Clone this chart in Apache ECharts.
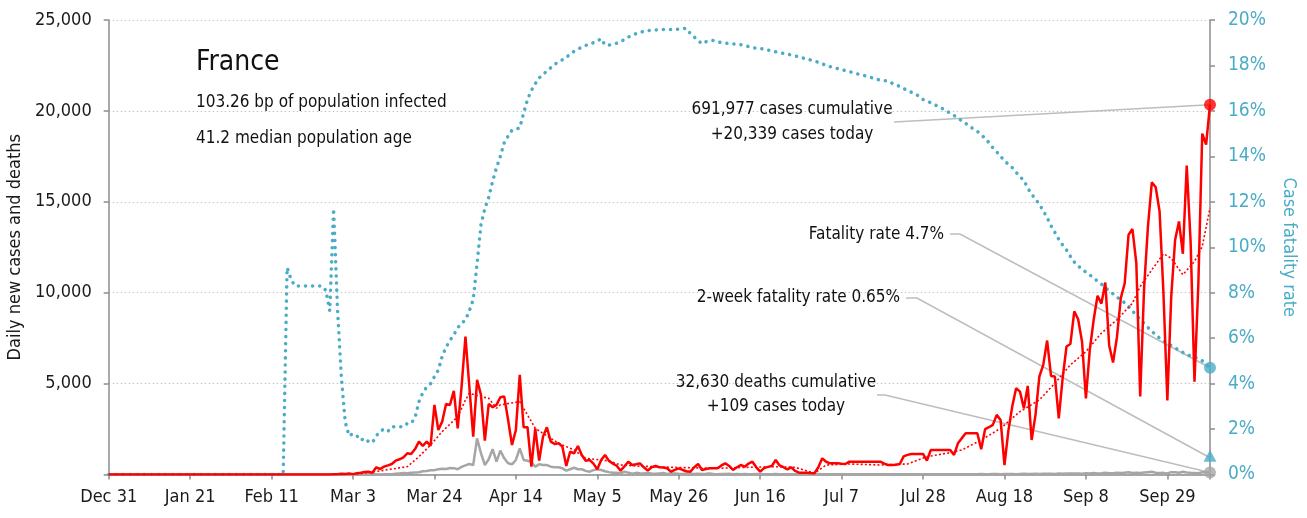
<!DOCTYPE html>
<html>
<head>
<meta charset="utf-8">
<title>France</title>
<script src="https://cdn.jsdelivr.net/npm/echarts@6/dist/echarts.min.js"></script>
<style>
  html, body { margin: 0; padding: 0; background: #fff; }
  #chart { width: 1307px; height: 518px; }
</style>
</head>
<body>
<div id="chart"></div>
<script>
// x axis: day index, 0 = Dec 31, 284 = last day
const tickLabels = ['Dec 31', 'Jan 21', 'Feb 11', 'Mar 3', 'Mar 24', 'Apr 14', 'May 5',
  'May 26', 'Jun 16', 'Jul 7', 'Jul 28', 'Aug 18', 'Sep 8', 'Sep 29']

// daily new cases
const cases = [
  0, 0, 0, 0, 0, 0, 0, 0, 0, 0,
  0, 0, 0, 0, 0, 0, 0, 0, 0, 0,
  0, 0, 0, 0, 0, 3, 0, 0, 0, 1,
  1, 0, 0, 0, 0, 0, 0, 0, 0, 5,
  0, 0, 0, 0, 0, 1, 0, 0, 0, 0,
  0, 0, 0, 0, 0, 0, 0, 2, 20, 19,
  43, 30, 61, 21, 73, 100, 138, 154, 100, 396,
  303, 430, 500, 578, 760, 837, 947, 1167, 1129, 1400,
  1806, 1570, 1806, 1570, 3827, 2450, 2908, 3882, 3827, 4598,
  2542, 4835, 7590, 4835, 2083, 5204, 4378, 1861, 3882, 3699,
  3827, 4250, 4290, 3000, 1625, 2450, 5480, 2600, 2600, 430,
  2540, 760, 2083, 2600, 1806, 1680, 1720, 1530, 470, 1250,
  1160, 1570, 1074, 760, 800, 600, 290, 800, 1074, 750,
  600, 480, 210, 450, 705, 523, 560, 614, 396, 210,
  400, 468, 396, 380, 340, 155, 250, 340, 250, 180,
  155, 400, 578, 250, 300, 340, 340, 340, 500, 614,
  468, 250, 400, 523, 430, 600, 705, 396, 155, 350,
  420, 468, 797, 500, 400, 286, 396, 200, 100, 100,
  100, 80, 70, 396, 890, 700, 614, 614, 614, 590,
  578, 705, 705, 705, 705, 705, 705, 705, 705, 705,
  600, 523, 523, 540, 578, 1000, 1080, 1130, 1130, 1130,
  1130, 760, 1350, 1350, 1350, 1350, 1350, 1350, 1074, 1716,
  2000, 2267, 2267, 2267, 2267, 1390, 2490, 2600, 2730, 3280,
  3000, 520, 2400, 3735, 4745, 4560, 3640, 4870, 1900, 3280,
  5390, 6030, 7370, 5420, 5390, 3090, 5300, 7040, 7180, 8970,
  8540, 7300, 4190, 6860, 8510, 9830, 9400, 10560, 7100, 6160,
  7550, 9700, 10520, 13190, 13500, 11630, 4290, 10240, 13650, 16070,
  15800, 14470, 9960, 4070, 9780, 12900, 13920, 12140, 16990, 12800,
  5110, 10490, 18750, 18150, 20339
]

// daily new deaths
const deaths = [
  0, 0, 0, 0, 0, 0, 0, 0, 0, 0,
  0, 0, 0, 0, 0, 0, 0, 0, 0, 0,
  0, 0, 0, 0, 0, 0, 0, 0, 0, 0,
  0, 0, 0, 0, 0, 0, 0, 0, 0, 0,
  0, 0, 0, 0, 0, 0, 1, 0, 0, 0,
  0, 0, 0, 0, 0, 0, 0, 0, 0, 0,
  0, 0, 1, 1, 0, 2, 3, 2, 8, 11,
  3, 15, 20, 12, 40, 60, 80, 70, 100, 110,
  120, 180, 190, 230, 240, 290, 320, 300, 360, 350,
  290, 420, 500, 580, 520, 1990, 1170, 523, 840, 1390,
  705, 1310, 890, 615, 560, 800, 1440, 800, 760, 700,
  430, 560, 520, 520, 430, 400, 396, 340, 210, 290,
  370, 290, 290, 200, 155, 240, 290, 250, 180, 130,
  100, 90, 70, 150, 100, 40, 90, 70, 60, 80,
  50, 40, 60, 80, 30, 50, 60, 40, 30, 50,
  45, 30, 40, 25, 35, 50, 30, 20, 25, 30,
  40, 20, 25, 15, 30, 20, 10, 25, 30, 15,
  20, 15, 25, 10, 15, 20, 10, 15, 20, 10,
  15, 10, 20, 25, 10, 15, 20, 10, 15, 20,
  10, 15, 12, 10, 15, 20, 10, 12, 15, 10,
  15, 10, 12, 15, 10, 12, 15, 10, 12, 15,
  10, 15, 12, 15, 10, 15, 12, 20, 15, 10,
  15, 20, 12, 15, 20, 25, 15, 20, 25, 30,
  20, 25, 30, 25, 20, 30, 35, 25, 30, 40,
  30, 40, 35, 45, 30, 50, 40, 60, 50, 55,
  60, 45, 70, 55, 80, 60, 70, 90, 65, 75,
  90, 80, 100, 120, 85, 95, 80, 110, 130, 150,
  100, 80, 90, 60, 130, 120, 100, 150, 110, 90,
  80, 70, 120, 130, 109
]

// case fatality rate, %
const fatalityRate = [
  0, 0, 0, 0, 0, 0, 0, 0, 0, 0,
  0, 0, 0, 0, 0, 0, 0, 0, 0, 0,
  0, 0, 0, 0, 0, 0, 0, 0, 0, 0,
  0, 0, 0, 0, 0, 0, 0, 0, 0, 0,
  0, 0, 0, 0, 0, 0, 9.1, 8.6, 8.3, 8.3,
  8.3, 8.3, 8.3, 8.3, 8.3, 8.3, 8.1, 7.2, 11.7, 7.3,
  4.3, 2.3, 1.7, 1.8, 1.7, 1.5, 1.6, 1.45, 1.4, 1.7,
  1.9, 2.0, 1.9, 2.1, 2.1, 2.1, 2.1, 2.25, 2.25, 2.5,
  3.2, 3.6, 3.85, 4.0, 4.3, 4.6, 5.2, 5.6, 5.9, 6.15,
  6.45, 6.66, 6.8, 7.2, 7.7, 9.3, 11.0, 11.7, 12.2, 12.9,
  13.5, 14.0, 14.6, 14.9, 15.15, 15.2, 15.25, 15.9, 16.5, 16.9,
  17.2, 17.45, 17.62, 17.74, 17.9, 18.05, 18.15, 18.25, 18.35, 18.5,
  18.62, 18.72, 18.8, 18.88, 18.95, 19.0, 19.07, 19.18, 18.9, 18.9,
  18.92, 18.98, 19.05, 19.14, 19.25, 19.33, 19.4, 19.46, 19.5, 19.53,
  19.55, 19.56, 19.57, 19.58, 19.58, 19.58, 19.58, 19.6, 19.62, 19.63,
  19.4, 19.25, 19.1, 18.95, 19.04, 19.08, 19.1, 19.05, 19.0, 18.98,
  18.97, 18.95, 18.93, 18.91, 18.88, 18.83, 18.78, 18.76, 18.74, 18.72,
  18.68, 18.64, 18.6, 18.57, 18.53, 18.5, 18.46, 18.42, 18.38, 18.33,
  18.28, 18.24, 18.19, 18.14, 18.07, 18.0, 17.95, 17.91, 17.86, 17.82,
  17.77, 17.73, 17.68, 17.63, 17.6, 17.55, 17.5, 17.45, 17.4, 17.35,
  17.33, 17.31, 17.22, 17.16, 17.07, 16.98, 16.9, 16.82, 16.73, 16.65,
  16.5, 16.45, 16.35, 16.27, 16.2, 16.1, 16.0, 15.9, 15.8, 15.68,
  15.56, 15.45, 15.33, 15.2, 15.1, 14.95, 14.8, 14.6, 14.38, 14.2,
  14.0, 13.8, 13.65, 13.5, 13.3, 13.1, 12.95, 12.6, 12.35, 12.1,
  11.9, 11.6, 11.3, 10.95, 10.65, 10.35, 10.1, 9.88, 9.6, 9.35,
  9.17, 9.05, 8.9, 8.78, 8.66, 8.5, 8.38, 8.22, 8.08, 7.95,
  7.8, 7.7, 7.55, 7.4, 7.2, 7.0, 6.83, 6.65, 6.47, 6.3,
  6.15, 6.0, 5.87, 5.77, 5.67, 5.57, 5.47, 5.37, 5.27, 5.22,
  5.17, 5.1, 5.0, 4.85, 4.7
]

// trend of new cases (red dotted), read at these days
const trendDays = [0, 61, 65, 70, 77, 80, 83, 86, 90, 92, 93, 96, 98, 100, 101, 106, 108, 110,
  114, 116, 120, 123, 129, 132, 136, 145, 157, 165, 172, 177, 182, 185, 191, 199, 206, 211,
  217, 220, 225, 230, 235, 240, 244, 248, 252, 256, 260, 264, 266, 269, 272, 274, 277, 280,
  282, 284]
const trendValues = [0, 0, 50, 200, 430, 980, 1625, 2360, 3180, 4100, 4470, 4285, 4195, 3645,
  3830, 4010, 3277, 2540, 1990, 1716, 1350, 890, 750, 520, 470, 396, 340, 396, 430, 396, 70,
  523, 578, 523, 578, 980, 1200, 1350, 1900, 2540, 3460, 4100, 5020, 6030, 6760, 7775, 8510,
  9430, 10340, 11260, 12140, 11900, 10990, 11720, 12540, 14660]

const twoWeekFatality = 0.65

const FONT = "'DejaVu Sans Condensed', 'Liberation Sans Narrow', sans-serif"
const TEAL = '#4bacc6'
const RED = '#ff0000'
const GREY = '#a6a6a6'
const AXIS = '#8c8c8c'

const lastDay = cases.length - 1
const byDay = (arr) => arr.map((v, i) => [i, v])

const chart = echarts.init(document.getElementById('chart'))

const option = {
  animation: false,
  textStyle: { fontFamily: FONT },
  grid: { left: 108.7, right: 97, top: 20, bottom: 43.5, outerBoundsMode: 'none', containLabel: false },
  xAxis: {
    type: 'value',
    min: 0,
    max: lastDay,
    interval: 21,
    axisLine: { lineStyle: { color: AXIS, width: 1.5 } },
    axisTick: { length: 5, lineStyle: { color: AXIS, width: 1.5 } },
    splitLine: { show: false },
    axisLabel: {
      color: '#1a1a1a',
      fontSize: 18,
      fontFamily: FONT,
      margin: 14,
      formatter: (v) => (v % 21 === 0 && tickLabels[v / 21]) ? tickLabels[v / 21] : ''
    }
  },
  yAxis: [
    {
      type: 'value',
      min: 0,
      max: 25000,
      interval: 5000,
      name: 'Daily new cases and deaths',
      nameLocation: 'middle',
      nameGap: 82,
      nameTextStyle: { color: '#1a1a1a', fontSize: 18, fontFamily: FONT },
      axisLine: { show: true, lineStyle: { color: AXIS, width: 1.5 } },
      axisTick: { show: true, length: 5, lineStyle: { color: AXIS, width: 1.5 } },
      splitLine: { lineStyle: { color: '#c4c4c4', type: [1.5, 2.5], width: 1 } },
      axisLabel: {
        color: '#1a1a1a',
        fontSize: 18,
        fontFamily: FONT,
        margin: 17,
        formatter: (v) => v === 0 ? '' : v.toLocaleString('en-US')
      }
    },
    {
      type: 'value',
      min: 0,
      max: 20,
      interval: 2,
      name: 'Case fatality rate',
      nameLocation: 'middle',
      nameRotate: -90,
      nameGap: 70,
      nameTextStyle: { color: TEAL, fontSize: 18, fontFamily: FONT },
      axisLine: { show: true, lineStyle: { color: AXIS, width: 1.5 } },
      axisTick: { show: true, length: 5, lineStyle: { color: AXIS, width: 1.5 } },
      splitLine: { show: false },
      axisLabel: {
        color: TEAL,
        fontSize: 19,
        fontFamily: FONT,
        margin: 18,
        formatter: '{value}%'
      }
    }
  ],
  series: [
    {
      name: 'Deaths',
      type: 'line',
      data: byDay(deaths),
      showSymbol: false,
      lineStyle: { color: GREY, width: 2.5 },
      z: 2
    },
    {
      name: 'Fatality rate',
      type: 'line',
      yAxisIndex: 1,
      data: byDay(fatalityRate),
      showSymbol: false,
      lineStyle: { color: TEAL, width: 3.5, type: [0.1, 7], cap: 'round' },
      z: 3
    },
    {
      name: 'Cases trend',
      type: 'line',
      data: trendDays.map((d, i) => [d, trendValues[i]]),
      showSymbol: false,
      lineStyle: { color: RED, width: 1.6, type: [2, 2.2] },
      z: 4
    },
    {
      name: 'Cases',
      type: 'line',
      data: byDay(cases),
      showSymbol: false,
      lineStyle: { color: RED, width: 2.5 },
      z: 5
    },
    {
      type: 'scatter',
      clip: false,
      data: [[lastDay, cases[lastDay]]],
      symbolSize: 12,
      itemStyle: { color: RED },
      z: 10
    },
    {
      type: 'scatter',
      clip: false,
      data: [[lastDay, deaths[lastDay]]],
      symbolSize: 12,
      itemStyle: { color: GREY },
      z: 10
    },
    {
      type: 'scatter',
      clip: false,
      yAxisIndex: 1,
      data: [[lastDay, fatalityRate[lastDay]]],
      symbolSize: 12,
      itemStyle: { color: TEAL },
      z: 10
    },
    {
      type: 'scatter',
      clip: false,
      yAxisIndex: 1,
      data: [[lastDay, twoWeekFatality]],
      symbol: 'triangle',
      symbolSize: [13, 12],
      symbolOffset: [0, -4],
      itemStyle: { color: TEAL },
      z: 10
    }
  ]
}

chart.setOption(option)

// leader lines to the end markers
const px = (v, axis) => chart.convertToPixel({ xAxisIndex: 0, yAxisIndex: axis }, [lastDay, v])
const pCases = px(cases[lastDay], 0)
const pDeaths = px(deaths[lastDay], 0)
const pRate = px(fatalityRate[lastDay], 1)
const pTwoWeek = px(twoWeekFatality, 1)

const leader = (points) => ({
  type: 'polyline',
  z: 1,
  shape: { points },
  style: { stroke: '#bdbdbd', lineWidth: 1.6, fill: null }
})
const label = (text, x, y, size, align, weight) => ({
  type: 'text',
  z: 20,
  style: {
    text,
    x,
    y,
    fill: '#111',
    font: (weight || 'normal') + ' ' + size + 'px ' + FONT,
    align,
    verticalAlign: 'middle',
    textAlign: align,
    textVerticalAlign: 'middle'
  }
})

chart.setOption({
  graphic: [
    leader([[894, 122], pCases]),
    leader([[950, 234], [960, 234], pRate]),
    leader([[906, 298], [917, 298], [pTwoWeek[0], pTwoWeek[1] - 2]]),
    leader([[877, 395], [885, 395], pDeaths]),
    label('France', 196, 63, 28, 'left'),
    label('103.26 bp of population infected', 196, 103, 17, 'left'),
    label('41.2 median population age', 196, 139, 17, 'left'),
    label('691,977 cases cumulative', 792, 110, 17, 'center'),
    label('+20,339 cases today', 792, 135, 17, 'center'),
    label('Fatality rate 4.7%', 944, 235, 17, 'right'),
    label('2-week fatality rate 0.65%', 900, 298, 17, 'right'),
    label('32,630 deaths cumulative', 776, 383, 17, 'center'),
    label('+109 cases today', 776, 407, 17, 'center')
  ]
})
</script>
</body>
</html>
